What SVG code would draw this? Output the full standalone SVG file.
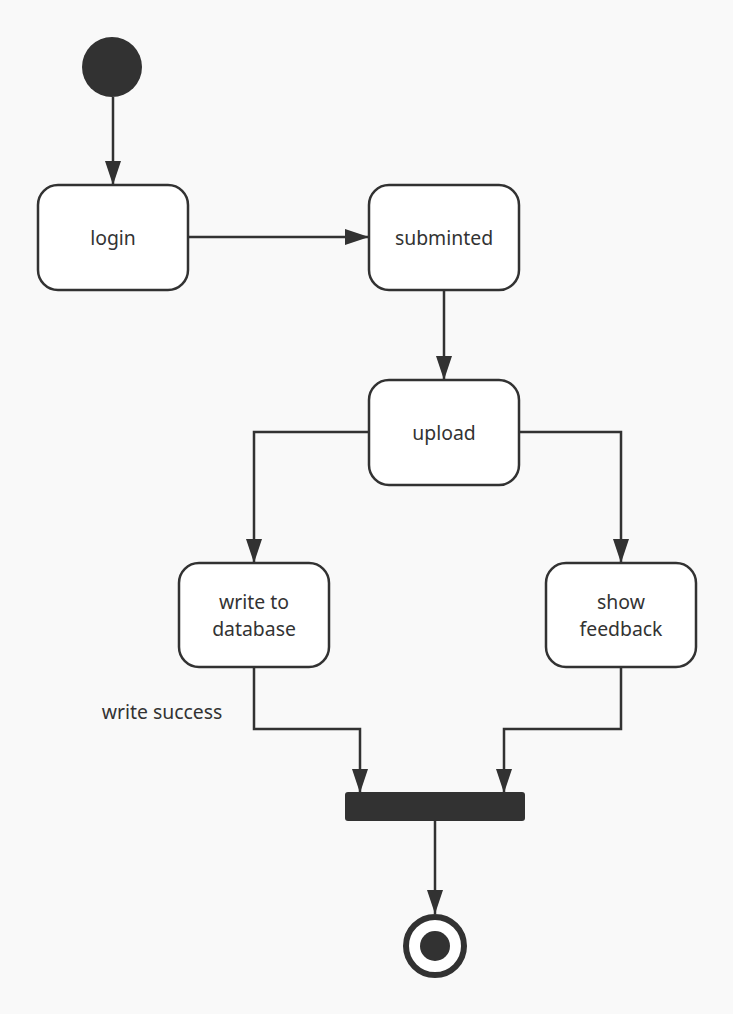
<svg xmlns="http://www.w3.org/2000/svg" width="733" height="1014" viewBox="0 0 733 1014">
<style>
.node rect{fill:#fff;stroke:#323232;stroke-width:2.5}
.lbl{font-family:"Noto Sans","Open Sans",sans-serif;font-size:19.4px;fill:#333;text-anchor:middle}
.edge{fill:none;stroke:#323232;stroke-width:2.5}
</style>
<defs>
<marker id="arr" viewBox="0 0 24 16" refX="24" refY="8" markerWidth="24" markerHeight="16" markerUnits="userSpaceOnUse" orient="auto">
<path d="M0,0 L24,8 L0,16 Z" fill="#323232"/>
</marker>
</defs>
<rect width="733" height="1014" fill="#f9f9f9"/>
<g id="connectors">
<path class="edge" d="M113,97 V185" marker-end="url(#arr)"/>
<path class="edge" d="M188,237 H369" marker-end="url(#arr)"/>
<path class="edge" d="M444,290 V380" marker-end="url(#arr)"/>
<path class="edge" d="M369,432 H254 V563" marker-end="url(#arr)"/>
<path class="edge" d="M519,432 H621 V563" marker-end="url(#arr)"/>
<path class="edge" d="M254,667 V729 H360 V793" marker-end="url(#arr)"/>
<path class="edge" d="M621,667 V729 H504 V793" marker-end="url(#arr)"/>
<path class="edge" d="M435,821 V914" marker-end="url(#arr)"/>
</g>
<g id="start"><circle cx="112" cy="67" r="30" fill="#323232"/></g>
<g id="login" class="node"><rect x="38" y="185" width="150" height="105" rx="20"/><text class="lbl" x="113" y="245">login</text></g>
<g id="submitted" class="node"><rect x="369" y="185" width="150" height="105" rx="20"/><text class="lbl" x="444" y="245">subminted</text></g>
<g id="upload" class="node"><rect x="369" y="380" width="150" height="105" rx="20"/><text class="lbl" x="444" y="440">upload</text></g>
<g id="write" class="node"><rect x="179" y="563" width="150" height="104" rx="20"/><text class="lbl" x="254" y="609">write to</text><text class="lbl" x="254" y="636">database</text></g>
<g id="feedback" class="node"><rect x="546" y="563" width="150" height="104" rx="20"/><text class="lbl" x="621" y="609">show</text><text class="lbl" x="621" y="636">feedback</text></g>
<g id="join"><rect x="345" y="792" width="180" height="29" rx="3" fill="#323232"/></g>
<g id="end"><circle cx="435" cy="946" r="29" fill="#fff" stroke="#323232" stroke-width="6"/><circle cx="435" cy="946" r="15" fill="#323232"/></g>
<text class="lbl" x="162" y="719">write success</text>
</svg>
